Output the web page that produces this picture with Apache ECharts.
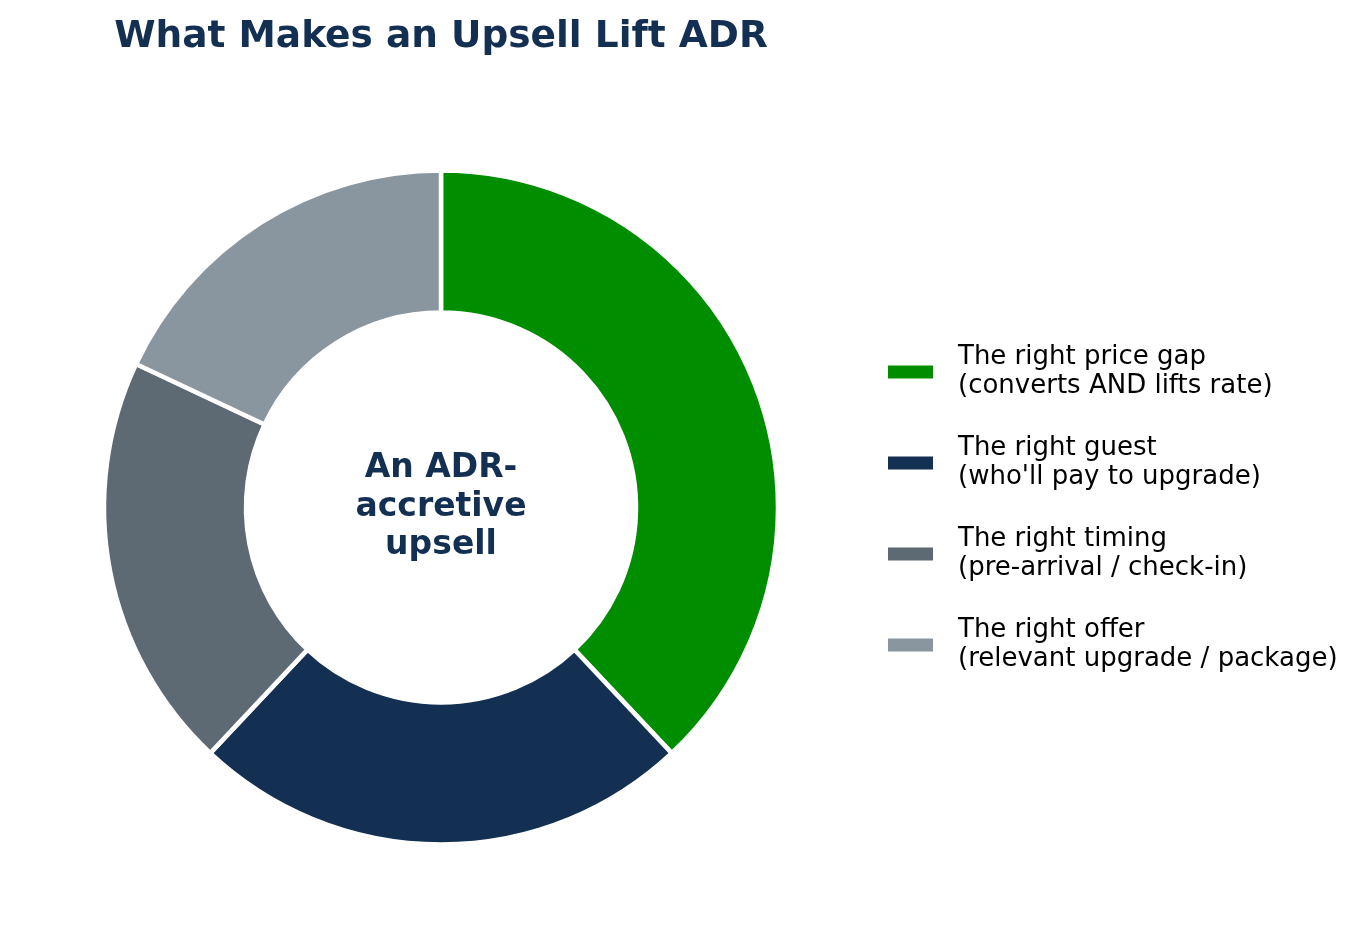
<!DOCTYPE html>
<html>
<head>
<meta charset="utf-8">
<script src="https://cdn.jsdelivr.net/npm/echarts@6/dist/echarts.min.js"></script>
<style>
  html, body { margin: 0; padding: 0; background: #fff; }
  #chartDiv { width: 1370px; height: 948px; }
</style>
</head>
<body>
<div id="chartDiv"></div>
<script>
// slice names (legend shows two lines each)
const sliceNames = [
    "The right price gap\n(converts AND lifts rate)",
    "The right guest\n(who'll pay to upgrade)",
    "The right timing\n(pre-arrival / check-in)",
    "The right offer\n(relevant upgrade / package)"
];
const sliceValues = [38, 24, 20, 18];   // share of the ring
const sliceColors = ["#008d00", "#132f52", "#5e6a73", "#8a969f"];

const chartTitle = "What Makes an Upsell Lift ADR";
const centerText = "An ADR-\naccretive\nupsell";

let chartDom = document.getElementById('chartDiv');
let myChart = echarts.init(chartDom);
let option;

option = {
    backgroundColor: '#ffffff',
    animation: false,
    title: {
        text: chartTitle,
        left: 436,
        top: 13,
        textAlign: 'center',
        textStyle: {
            fontFamily: 'DejaVu Sans',
            fontSize: 37.5,
            fontWeight: 'bold',
            color: '#132f52'
        }
    },
    legend: {
        orient: 'vertical',
        left: 888,
        top: 343,
        padding: 0,
        icon: 'rect',
        itemWidth: 45,
        itemHeight: 13,
        itemGap: 33,
        itemStyle: { borderWidth: 0 },
        textStyle: {
            fontFamily: 'DejaVu Sans',
            fontSize: 26,
            lineHeight: 29,
            color: '#000',
            padding: [0, 0, 0, 20]
        }
    },
    graphic: [{
        type: 'text',
        style: {
            text: centerText,
            x: 441,
            y: 507,
            align: 'center',
            verticalAlign: 'middle',
            fontFamily: 'DejaVu Sans',
            fontSize: 33,
            fontWeight: 'bold',
            lineHeight: 38.5,
            fill: '#132f52'
        }
    }],
    series: [{
        name: 'Upsell',
        type: 'pie',
        center: [441, 507.5],
        radius: [195, 337],
        startAngle: 90,
        clockwise: true,
        label: { show: false },
        labelLine: { show: false },
        emphasis: { disabled: true },
        itemStyle: {
            borderColor: '#ffffff',
            borderWidth: 4.5
        },
        data: sliceNames.map((n, i) => ({
            name: n,
            value: sliceValues[i],
            itemStyle: { color: sliceColors[i] }
        }))
    }]
};

option && myChart.setOption(option);
</script>
</body>
</html>
